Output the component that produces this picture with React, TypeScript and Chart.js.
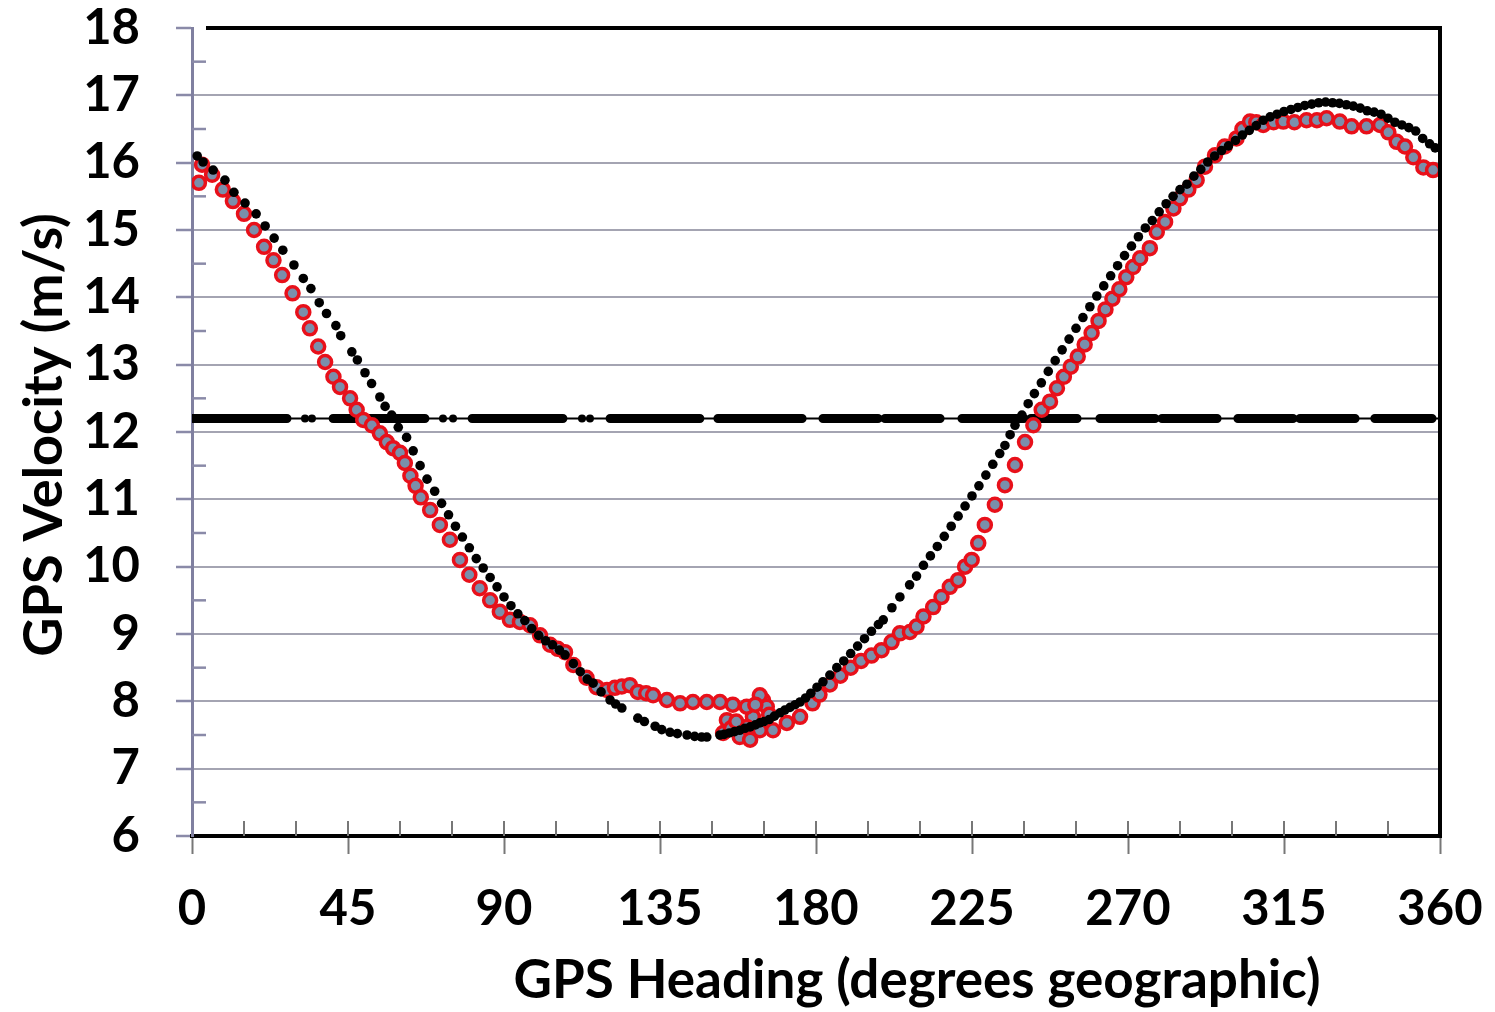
import React, { useEffect, useRef } from "react";
import { Chart, registerables } from "chart.js";

Chart.register(...registerables);

// Model (black dots): GPS heading (deg) and velocity (m/s)
const modelHeading = [1.5,3.2,6.1,9.5,12.1,15.3,18.5,21.1,23.7,26.2,29.4,32.1,34.3,36.7,38.8,41.5,42.9,46.1,47.7,49.9,51.8,54.2,55.7,57.6,59.5,61.9,63.8,65.8,67.8,70,72,74,76,78,80,82,84,86,88,90,92,94,96,98,100,102,104,106,107.6,110,112,114,115.7,118,120.6,122.2,124,128.6,130.5,133.6,135.5,137.9,140,142.8,145,147,148.5,152.3,153.5,155,156.5,158,159.5,161,162.5,163.8,165,166.5,168,169.6,171,172.5,174,175.4,177,178.5,180.3,182,184,186,188,190,192,194,196,198,199.4,201.9,204.2,207,209,211,213,215,217,219,221,223,225,227,229,231,233,234.5,236,237.4,239.4,241.2,243,245,247,249,251,253,255,257,259,261,263,265,267,269,271,273,275,277,279,281,283,285,287,289,291,293,295,297,299,301,303,305,307,309,311,313,315,317,319,321,323,325,327,329,331,333,335,337,339,341,343,345,347,349,351,353,355,357,358.6];
const modelSpeed = [16.1,16.01,15.89,15.74,15.56,15.4,15.24,15.06,14.88,14.7,14.48,14.28,14.13,13.92,13.76,13.58,13.43,13.19,13.07,12.88,12.72,12.52,12.38,12.25,12.07,11.92,11.72,11.5,11.3,11.12,10.94,10.77,10.6,10.44,10.28,10.12,9.98,9.84,9.7,9.55,9.42,9.3,9.2,9.08,8.98,8.9,8.84,8.76,8.69,8.56,8.44,8.33,8.27,8.14,8.02,7.96,7.9,7.75,7.7,7.63,7.58,7.54,7.52,7.5,7.48,7.47,7.47,7.5,7.51,7.53,7.55,7.57,7.6,7.62,7.65,7.68,7.7,7.73,7.78,7.83,7.87,7.91,7.95,7.99,8.05,8.12,8.21,8.29,8.39,8.5,8.6,8.71,8.82,8.93,9.04,9.14,9.21,9.39,9.55,9.73,9.86,10.02,10.16,10.3,10.45,10.6,10.75,10.9,11.05,11.2,11.36,11.52,11.68,11.8,11.96,12.1,12.25,12.42,12.57,12.73,12.9,13.06,13.22,13.38,13.54,13.7,13.86,14.02,14.17,14.32,14.47,14.62,14.76,14.9,15.03,15.14,15.27,15.39,15.5,15.6,15.68,15.8,15.9,16.01,16.1,16.18,16.25,16.33,16.41,16.48,16.55,16.63,16.68,16.72,16.76,16.79,16.82,16.85,16.87,16.89,16.9,16.89,16.88,16.86,16.84,16.81,16.77,16.75,16.72,16.66,16.6,16.56,16.52,16.47,16.36,16.28,16.22];

// Measured (red circles)
const measHeading = [2.0,2.9,5.8,8.9,11.8,15,17.9,20.8,23.5,26,29,32.1,34,36.4,38.4,40.8,42.7,45.6,47.5,49.4,51.9,54.2,56.2,58,60,61.4,63,64.5,66,68.7,71.5,74.4,77.3,80,83,86,88.8,91.7,94.6,97.5,100.4,103.3,105.5,107.6,110,113.8,116.7,119.7,122,124,126.3,128.6,131,133,137,140.8,144.5,148.5,152.3,156,154.3,153.2,155.5,158,161,163.8,164.7,163.8,165.8,161.8,160,160,157,166.5,162.5,167.6,171.6,175.4,179,181,184,187,190,193,196,198.9,201.8,204.2,207.1,209,211,213.8,216.2,218.6,221,223,224.9,226.8,228.7,231.6,234.5,237.4,240.3,242.7,245.1,247.5,249.5,251.5,253.5,255.5,257.5,259.5,261.5,263.5,265.5,267.5,269.5,271.5,273.5,276.3,278.3,280.7,283.1,285,287.4,289.8,292.2,295.1,297.9,301.3,303,305.2,307,309,312,314.8,318,321.5,324.5,327.3,331.1,334.5,338.8,342.7,345.1,347.5,349.9,352.3,355.2,358];
const measSpeed = [15.7,15.97,15.82,15.6,15.43,15.24,15.0,14.75,14.55,14.33,14.06,13.78,13.54,13.27,13.04,12.82,12.67,12.5,12.33,12.18,12.1,11.98,11.85,11.76,11.69,11.54,11.35,11.2,11.03,10.84,10.62,10.4,10.1,9.88,9.68,9.5,9.33,9.21,9.18,9.13,8.98,8.84,8.78,8.73,8.54,8.35,8.21,8.17,8.2,8.22,8.24,8.14,8.12,8.09,8.02,7.97,7.99,7.99,7.99,7.95,7.72,7.53,7.6,7.47,7.43,7.57,8.02,8.09,7.92,7.77,7.62,7.92,7.7,7.8,7.95,7.57,7.68,7.77,7.97,8.1,8.25,8.38,8.5,8.6,8.68,8.76,8.88,9.01,9.03,9.11,9.26,9.4,9.55,9.7,9.8,10.0,10.1,10.35,10.62,10.92,11.21,11.51,11.85,12.1,12.33,12.45,12.65,12.82,12.97,13.12,13.3,13.47,13.65,13.82,13.98,14.12,14.3,14.45,14.58,14.73,14.97,15.12,15.32,15.47,15.6,15.74,15.94,16.11,16.24,16.36,16.5,16.61,16.6,16.56,16.6,16.61,16.6,16.63,16.63,16.66,16.61,16.54,16.54,16.56,16.45,16.31,16.24,16.08,15.93,15.89];

// Mean velocity line (dashed, made of dense points)
const meanSpeed = 12.2;
const meanDashStart = [0, 40.7, 80.8, 120.6, 151.7, 182, 199.9, 222.1, 242, 261.9, 279.8, 301.7, 319.6, 341.2];
const meanDashEnd = [27.4, 67.2, 107, 146.5, 176, 197.9, 215.8, 240, 255.3, 277.8, 295.7, 317.6, 335.5, 357.7];
const meanDots = [32.6, 34.6, 72.4, 75.3, 112.5, 114.8];

const yTicks = [6, 7, 8, 9, 10, 11, 12, 13, 14, 15, 16, 17, 18];
const xTicks = [0, 45, 90, 135, 180, 225, 270, 315, 360];
const xTitle = "GPS Heading (degrees geographic)";
const yTitle = "GPS Velocity (m/s)";

const FONT = "Lato, 'Open Sans', sans-serif";

export default function App() {
  const ref = useRef<HTMLCanvasElement | null>(null);
  useEffect(() => {
    document.body.style.margin = "0";
    const canvas = ref.current!;
    const dashData: any[] = [];
    meanDashStart.forEach((s, i) => {
      dashData.push({ x: s, y: meanSpeed });
      dashData.push({ x: meanDashEnd[i], y: meanSpeed });
      if (i < meanDashStart.length - 1) dashData.push({ x: (meanDashEnd[i] + meanDashStart[i + 1]) / 2, y: null });
    });

    const framePlugin = {
      id: "frame",
      afterDraw(chart: any) {
        const { ctx, chartArea, scales } = chart;
        const { left, right, top, bottom } = chartArea;
        const x = scales.x, y = scales.y;
        ctx.save();
        // minor y ticks (inside)
        ctx.strokeStyle = "#8a8aa8";
        ctx.lineWidth = 2.5;
        for (let i = 0; i < yTicks.length - 1; i++) {
          const py = y.getPixelForValue(yTicks[i] + 0.5);
          ctx.beginPath();
          ctx.moveTo(left, py);
          ctx.lineTo(left + 14, py);
          ctx.stroke();
        }
        // x ticks inside every 15 deg
        ctx.strokeStyle = "#777";
        ctx.lineWidth = 2;
        for (let d = 15; d < 360; d += 15) {
          const px = x.getPixelForValue(d);
          ctx.beginPath();
          ctx.moveTo(px, bottom);
          ctx.lineTo(px, bottom - 15);
          ctx.stroke();
        }
        // top & right border
        ctx.strokeStyle = "#000";
        ctx.lineWidth = 4;
        ctx.beginPath();
        ctx.moveTo(left + 14, top);
        ctx.lineTo(right + 2, top);
        ctx.moveTo(right, top);
        ctx.lineTo(right, bottom + 2);
        ctx.stroke();
        // axis titles
        ctx.fillStyle = "#000";
        ctx.font = `bold 53px ${FONT}`;
        ctx.textAlign = "center";
        ctx.textBaseline = "alphabetic";
        ctx.fillText(xTitle, 917, 998);
        ctx.translate(62, 435);
        ctx.rotate(-Math.PI / 2);
        ctx.font = `bold 54px ${FONT}`;
        ctx.fillText(yTitle, 0, 0);
        ctx.restore();
      },
    };

    const chart = new Chart(canvas, {
      type: "scatter",
      data: {
        datasets: [
          {
            label: "Model",
            data: modelHeading.map((h, i) => ({ x: h, y: modelSpeed[i] })),
            pointRadius: 4.8,
            pointBackgroundColor: "#000",
            pointBorderWidth: 0,
            showLine: false,
          },
          {
            label: "GPS",
            data: measHeading.map((h, i) => ({ x: h, y: measSpeed[i] })),
            pointRadius: 6.5,
            pointBackgroundColor: "#7a8fab",
            pointBorderColor: "#e8101a",
            pointBorderWidth: 3.5,
            showLine: false,
          },
          {
            label: "Mean dots",
            data: meanDots.map((d) => ({ x: d, y: meanSpeed })),
            pointRadius: 4,
            pointBackgroundColor: "#000",
            pointBorderWidth: 0,
            showLine: false,
          },
          {
            label: "Mean dashes",
            data: dashData,
            showLine: true,
            spanGaps: false,
            borderColor: "#000",
            borderWidth: 9,
            borderCapStyle: "round",
            pointRadius: 0,
          },
          {
            label: "Mean",
            data: [{ x: 0, y: meanSpeed }, { x: 360, y: meanSpeed }],
            showLine: true,
            borderColor: "#000",
            borderWidth: 2,
            pointRadius: 0,
          },
        ],
      },
      options: {
        responsive: false,
        animation: false,
        events: [],
        layout: { padding: { left: 0, top: 28, right: 55, bottom: 0 } },
        plugins: { legend: { display: false }, tooltip: { enabled: false } },
        scales: {
          x: {
            type: "linear",
            min: 0,
            max: 360,
            afterBuildTicks: (s: any) => { s.ticks = xTicks.map((v) => ({ value: v })); },
            afterFit: (s: any) => { s.height = 176; s.paddingLeft = 0; s.paddingRight = 0; },
            ticks: { color: "#000", font: { family: FONT, size: 49, weight: "bold" }, padding: 26 },
            grid: { drawOnChartArea: false, drawTicks: true, tickLength: 18, tickColor: "#777", tickWidth: 2 },
            border: { display: true, color: "#000", width: 4 },
          },
          y: {
            type: "linear",
            min: 6,
            max: 18,
            afterBuildTicks: (s: any) => { s.ticks = yTicks.map((v) => ({ value: v })); },
            afterFit: (s: any) => { s.width = 192; s.paddingTop = 0; s.paddingBottom = 0; },
            ticks: { color: "#000", font: { family: FONT, size: 49, weight: "bold" }, padding: 36 },
            grid: {
              color: (c: any) => (c.tick && c.tick.value === 18 ? "rgba(0,0,0,0)" : "#a4a4b2"),
              lineWidth: 2,
              drawTicks: true,
              tickLength: 16,
              tickColor: "#8a8aa8",
              tickWidth: 2.5,
            },
            border: { display: true, color: "#8080a0", width: 3 },
          },
        },
      },
      plugins: [framePlugin],
    } as any);
    return () => chart.destroy();
  }, []);
  return (
    <div style={{ width: 1495, height: 1012, background: "#fff" }}>
      <canvas ref={ref} width={1495} height={1012} style={{ display: "block" }} />
    </div>
  );
}
